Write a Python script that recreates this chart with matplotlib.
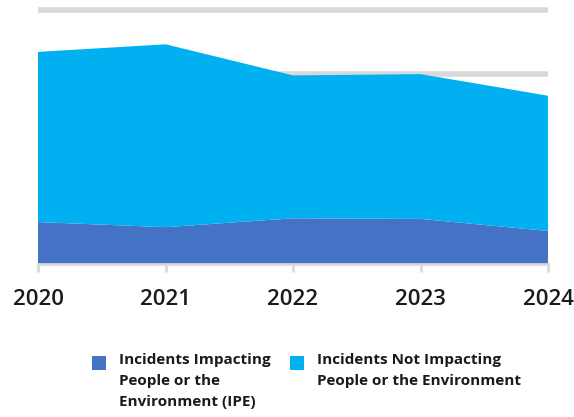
import matplotlib
matplotlib.use("Agg")
import matplotlib.pyplot as plt
from matplotlib.patches import Rectangle
import numpy as np

years = ["2020", "2021", "2022", "2023", "2024"]
ipe = [0.66, 0.58, 0.72, 0.71, 0.52]
not_ipe = [2.68, 2.88, 2.25, 2.28, 2.13]

labels = [
    "Incidents Impacting\nPeople or the\nEnvironment (IPE)",
    "Incidents Not Impacting\nPeople or the Environment",
]
colors = ["#4472C4", "#00B0F0"]
grid_color = "#d9d9d9"

plt.rcParams["font.family"] = ["Open Sans", "DejaVu Sans"]

W, H = 574, 417
fig = plt.figure(figsize=(W / 100, H / 100), dpi=100)
ax = fig.add_axes([38 / W, 1 - 264 / H, 510 / W, 254 / H])

x = np.arange(len(years))
for yv in [1, 2, 3, 4]:
    ax.axhline(yv, color=grid_color, linewidth=4, zorder=0, clip_on=False,
               solid_capstyle="butt")
ax.stackplot(x, ipe, not_ipe, colors=colors, zorder=2, linewidth=0)

ax.set_xlim(0, len(years) - 1)
ax.set_ylim(0, 4)
ax.set_yticks([])
for side in ["top", "right", "left"]:
    ax.spines[side].set_visible(False)
ax.spines["bottom"].set_color(grid_color)
ax.spines["bottom"].set_linewidth(2)
ax.spines["bottom"].set_zorder(3)
ax.set_xticks(x)
ax.set_xticklabels(years, fontsize=16, fontweight="semibold", color="#1a1a1a")
ax.tick_params(axis="x", length=6, width=2, color=grid_color, pad=12)

# legend drawn by hand
leg = [(92, 356, 119), (290, 356, 317)]
for (sx, sy, tx), lab, c in zip(leg, labels, colors):
    fig.patches.append(Rectangle((sx / W, 1 - (sy + 14) / H), 14 / W, 14 / H,
                                 transform=fig.transFigure, facecolor=c, edgecolor="none"))
    fig.text(tx / W, 1 - 353 / H, lab, fontsize=11, fontweight="bold", color="#1a1a1a",
             va="top", ha="left", linespacing=1.63)

fig.savefig("out.png", dpi=100)
